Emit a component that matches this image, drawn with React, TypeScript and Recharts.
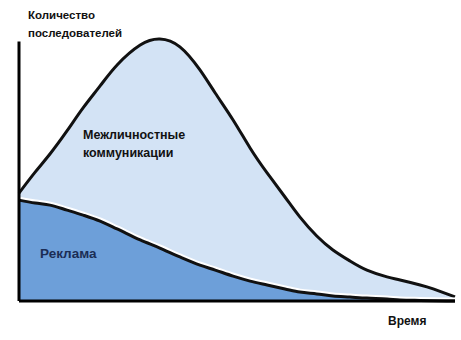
import React from "react";
import { ComposedChart, Area, XAxis, YAxis, ReferenceLine } from "recharts";

const timePoints = [0, 3.7, 7.1, 11, 14.7, 18.6, 22.5, 27.8, 32.3, 36.9, 41.5, 45, 49.1, 53, 56.9, 61, 64.4, 68.3, 72, 75.9, 79.8, 84.4, 87.4, 92, 95, 100];
const interpersonal = [41.2, 49.2, 56.1, 64.9, 73.7, 82.1, 90.1, 97.7, 100, 97, 88.2, 79.4, 69.1, 58.4, 48.9, 39.7, 32.1, 24.8, 19.5, 15.3, 11.8, 9.2, 8, 6.1, 4.6, 1.6];
const advertising = [38.5, 37.4, 36.6, 34.7, 32.8, 30.5, 27.5, 23.3, 20.2, 16.8, 13.7, 11.8, 9.5, 7.6, 6.1, 4.6, 3.4, 2.7, 1.9, 1.5, 1.1, 0.8, 0.4, 0.2, 0.1, 0];

const yAxisTitle = ["Количество", "последователей"];
const xAxisTitle = "Время";
const interpersonalLabel = ["Межличностные", "коммуникации"];
const advertisingLabel = "Реклама";

const data = timePoints.map((t, i) => ({ t, inter: interpersonal[i], adv: advertising[i] }));

const font = '"Liberation Sans", Arial, sans-serif';

export default function App() {
  return (
    <div style={{ position: "fixed", left: 0, top: 0, width: 461, height: 340, background: "#fff", fontFamily: font }}>
      <ComposedChart width={461} height={340} data={data} margin={{ top: 39, right: 6, bottom: 39, left: 19 }}>
        <XAxis type="number" dataKey="t" domain={[0, 100]} hide />
        <YAxis type="number" domain={[0, 100]} hide />
        <Area type="natural" dataKey="inter" stroke="#111" strokeWidth={3} fill="#d3e3f5" fillOpacity={1} isAnimationActive={false} />
        <Area type="monotone" dataKey="adv" stroke="#ffffff" strokeWidth={7} fill="#6d9fd9" fillOpacity={1} isAnimationActive={false} />
        <Area type="monotone" dataKey="adv" stroke="#111" strokeWidth={3} fill="#6d9fd9" fillOpacity={1} isAnimationActive={false} />
        <ReferenceLine segment={[{ x: 0, y: 0 }, { x: 0, y: 99 }]} stroke="#000" strokeWidth={3} ifOverflow="visible" />
        <ReferenceLine segment={[{ x: 0, y: 0 }, { x: 100, y: 0 }]} stroke="#000" strokeWidth={3} ifOverflow="visible" />
      </ComposedChart>
      <div style={{ position: "absolute", left: 28, top: 6, fontSize: 11.5, fontWeight: 700, color: "#111", lineHeight: "18px" }}>
        {yAxisTitle.map((s) => (<div key={s}>{s}</div>))}
      </div>
      <div style={{ position: "absolute", left: 83, top: 126, fontSize: 12.5, fontWeight: 700, color: "#111", lineHeight: "18px" }}>
        {interpersonalLabel.map((s) => (<div key={s}>{s}</div>))}
      </div>
      <div style={{ position: "absolute", left: 40, top: 246, fontSize: 13.5, fontWeight: 700, color: "#1b2d55" }}>{advertisingLabel}</div>
      <div style={{ position: "absolute", left: 388, top: 314, fontSize: 12, fontWeight: 700, color: "#111" }}>{xAxisTitle}</div>
    </div>
  );
}
